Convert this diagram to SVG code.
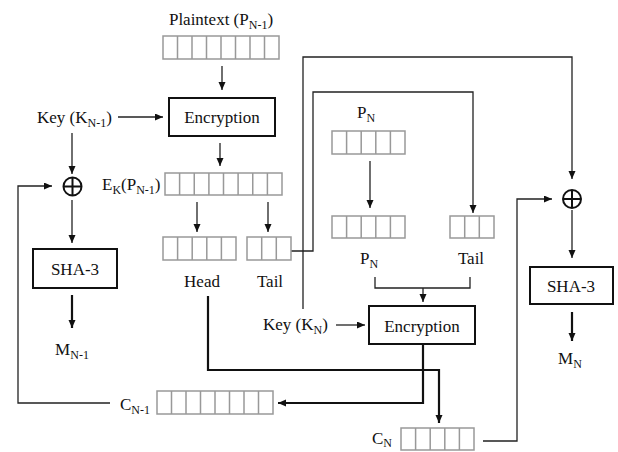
<svg xmlns="http://www.w3.org/2000/svg" width="618" height="452" viewBox="0 0 618 452" font-family="'Liberation Serif', 'Times New Roman', 'DejaVu Serif', serif">
<defs>
<marker id="ah" markerUnits="userSpaceOnUse" markerWidth="9" markerHeight="8" refX="8" refY="3.5" orient="auto"><path d="M0,0 L8,3.5 L0,7 z" fill="#111"/></marker>
<style>
text{font-family:'Liberation Serif','Times New Roman','DejaVu Serif',serif;font-size:17px;fill:#111}
.c{text-anchor:middle}
.sub{font-size:12px}
.cell{fill:#fff;stroke:#999;stroke-width:1.5}
.div{stroke:#999;stroke-width:1.5}
.box{fill:#fff;stroke:#111;stroke-width:2}
.ln{fill:none;stroke:#222;stroke-width:1.3}
.th{fill:none;stroke:#111;stroke-width:2.2}
.ar{marker-end:url(#ah)}
.xor{fill:none;stroke:#111;stroke-width:2}
</style>
</defs>
<rect width="618" height="452" fill="#fff"/>
<g id="connectors">
<path class="ln ar" d="M222,66 V90"/>
<path class="ln ar" d="M118,117 H163"/>
<path class="ln ar" d="M220,143 V166"/>
<path class="ln ar" d="M72,133 V174"/>
<path class="ln ar" d="M197,202 V232"/>
<path class="ln ar" d="M268,202 V232"/>
<path class="ln ar" d="M110,403 H18 V186 H52"/>
<path class="ln ar" d="M72,200 V243"/>
<path class="th ar" d="M72,295 V328"/>
<path class="ln ar" d="M291,251 H313 V92 H473 V213"/>
<path class="ln ar" d="M303,309 V57 H572 V179"/>
<path class="ln ar" d="M370,161 V208"/>
<path class="ln" d="M375,277 V288 H470 V277"/>
<path class="ln ar" d="M423,288 V302"/>
<path class="ln ar" d="M336,325 H365"/>
<path class="th ar" d="M423,344 V403 H278"/>
<path class="th ar" d="M208,296 V370 H439 V423"/>
<path class="ln ar" d="M483,441 H517 V199 H552"/>
<path class="ln ar" d="M572,210 V258"/>
<path class="th ar" d="M572,312 V341"/>
</g>
<g id="plaintext-label"><text x="221" y="25" class="c">Plaintext (P<tspan class="sub" dy="4">N-1</tspan><tspan dy="-4">)</tspan></text></g>
<g id="plaintext-array">
<rect class="cell" x="163" y="36" width="116" height="23"/>
<path class="div" d="M177.5,36v23M192,36v23M206.5,36v23M221,36v23M235.5,36v23M250,36v23M264.5,36v23"/>
</g>
<g id="encryption1"><rect class="box" x="169" y="98" width="106" height="38"/><text x="222" y="123" class="c">Encryption</text></g>
<g id="key1"><text x="37" y="123">Key (K<tspan class="sub" dy="4">N-1</tspan><tspan dy="-4">)</tspan></text></g>
<g id="xor1"><circle class="xor" cx="72.5" cy="186.5" r="9"/><path class="xor" d="M72.5,177.5v18M63.5,186.5h18"/></g>
<g id="ek-array">
<text x="102" y="190">E<tspan class="sub" dy="4">K</tspan><tspan dy="-4">(P</tspan><tspan class="sub" dy="4">N-1</tspan><tspan dy="-4">)</tspan></text>
<rect class="cell" x="165" y="173" width="117" height="22"/>
<path class="div" d="M179.6,173v22M194.25,173v22M208.9,173v22M223.5,173v22M238.1,173v22M252.75,173v22M267.4,173v22"/>
</g>
<g id="head">
<rect class="cell" x="163" y="237" width="73" height="23"/>
<path class="div" d="M177.6,237v23M192.2,237v23M206.8,237v23M221.4,237v23"/>
<text x="202" y="287" class="c">Head</text>
</g>
<g id="tail1">
<rect class="cell" x="247" y="237" width="44" height="23"/>
<path class="div" d="M261.7,237v23M276.3,237v23"/>
<text x="270" y="287" class="c">Tail</text>
</g>
<g id="sha3-1"><rect class="box" x="33" y="249" width="84" height="39"/><text x="75" y="275" class="c">SHA-3</text></g>
<g id="m1"><text x="72" y="355" class="c">M<tspan class="sub" dy="4">N-1</tspan></text></g>
<g id="cn1">
<text x="120" y="410">C<tspan class="sub" dy="4">N-1</tspan></text>
<rect class="cell" x="157" y="391" width="116" height="23"/>
<path class="div" d="M171.5,391v23M186,391v23M200.5,391v23M215,391v23M229.5,391v23M244,391v23M258.5,391v23"/>
</g>
<g id="pn-top">
<text x="357" y="118">P<tspan class="sub" dy="4">N</tspan></text>
<rect class="cell" x="332" y="131" width="73" height="23"/>
<path class="div" d="M346.6,131v23M361.2,131v23M375.8,131v23M390.4,131v23"/>
</g>
<g id="pn-2">
<rect class="cell" x="332" y="216" width="73" height="22"/>
<path class="div" d="M346.6,216v22M361.2,216v22M375.8,216v22M390.4,216v22"/>
<text x="360" y="264">P<tspan class="sub" dy="4">N</tspan></text>
</g>
<g id="tail2">
<rect class="cell" x="450" y="216" width="44" height="22"/>
<path class="div" d="M464.7,216v22M479.3,216v22"/>
<text x="471" y="264" class="c">Tail</text>
</g>
<g id="key2"><text x="263" y="330">Key (K<tspan class="sub" dy="4">N</tspan><tspan dy="-4">)</tspan></text></g>
<g id="encryption2"><rect class="box" x="369" y="306" width="106" height="38"/><text x="422" y="332" class="c">Encryption</text></g>
<g id="cn">
<text x="372" y="444">C<tspan class="sub" dy="3">N</tspan></text>
<rect class="cell" x="401" y="428" width="73" height="22"/>
<path class="div" d="M415.6,428v22M430.2,428v22M444.8,428v22M459.4,428v22"/>
</g>
<g id="xor2"><circle class="xor" cx="572" cy="199" r="9"/><path class="xor" d="M572,190v18M563,199h18"/></g>
<g id="sha3-2"><rect class="box" x="530" y="267" width="83" height="37"/><text x="571" y="292" class="c">SHA-3</text></g>
<g id="m2"><text x="570" y="364" class="c">M<tspan class="sub" dy="4">N</tspan></text></g>
</svg>
